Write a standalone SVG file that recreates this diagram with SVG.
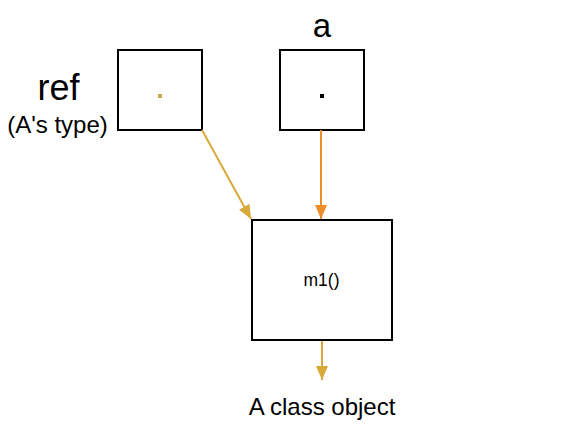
<svg xmlns="http://www.w3.org/2000/svg" width="565" height="424" viewBox="0 0 565 424">
<style>
.box{fill:#fff;stroke:#000;stroke-width:2}
.t{font-family:"Liberation Sans",Arial,sans-serif;fill:#000}
</style>
<defs>
<marker id="ag" viewBox="0 0 14 12" refX="14" refY="6" markerWidth="14" markerHeight="12" markerUnits="userSpaceOnUse" orient="auto"><path d="M0,0L14,6L0,12z" fill="#d9a93a"/></marker>
<marker id="ao" viewBox="0 0 14 12" refX="14" refY="6" markerWidth="14" markerHeight="12" markerUnits="userSpaceOnUse" orient="auto"><path d="M0,0L14,6L0,12z" fill="#ee8e2a"/></marker>
</defs>
<rect width="565" height="424" fill="#fff"/>
<g id="ref">
<rect class="box" x="118" y="50" width="84" height="80"/>
<rect x="158" y="94" width="4" height="4" fill="#c9a050"/>
<text class="t" x="58.5" y="100" font-size="36" text-anchor="middle">ref</text>
<text class="t" x="57.5" y="133" font-size="24" text-anchor="middle">(A's type)</text>
</g>
<g id="a">
<rect class="box" x="280" y="50" width="84" height="80"/>
<rect x="320" y="94" width="4" height="4" fill="#000"/>
<text class="t" x="322" y="37" font-size="33" text-anchor="middle">a</text>
</g>
<g id="obj">
<rect class="box" x="252" y="220" width="140" height="120"/>
<text class="t" x="321.5" y="286" font-size="17.5" text-anchor="middle">m1()</text>
</g>
<g id="label">
<text class="t" x="322" y="415" font-size="24" text-anchor="middle">A class object</text>
</g>
<g id="connectors" fill="none" stroke-width="2">
<line x1="202" y1="130" x2="251" y2="219" stroke="#d9a93a" marker-end="url(#ag)"/>
<line x1="321" y1="130" x2="321" y2="219" stroke="#ee8e2a" marker-end="url(#ao)"/>
<line x1="322" y1="341" x2="322" y2="380" stroke="#d9a93a" marker-end="url(#ag)"/>
</g>
</svg>
